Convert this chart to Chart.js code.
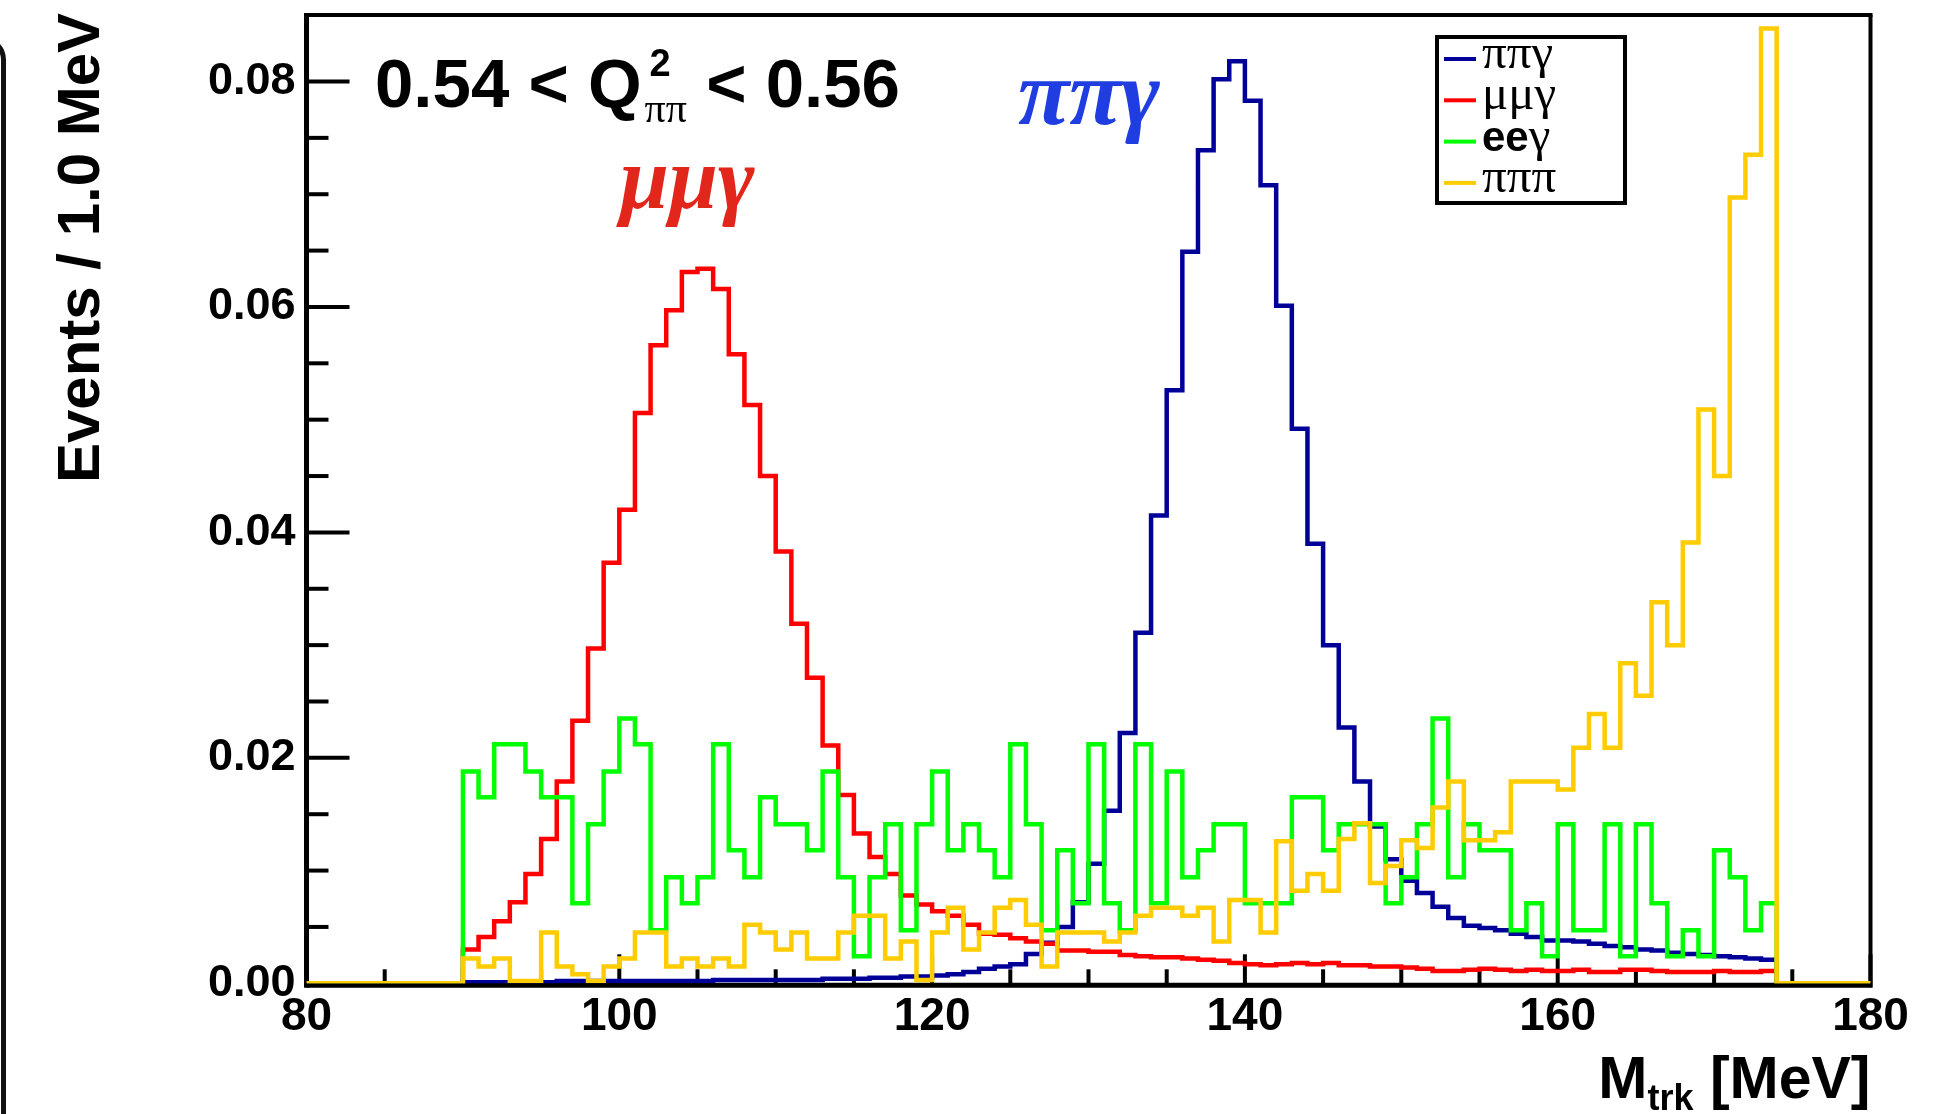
<!DOCTYPE html>
<html>
<head>
<meta charset="utf-8">
<title>M_trk distribution</title>
<script src="https://cdn.jsdelivr.net/npm/chart.js@4/dist/chart.umd.min.js"></script>
<style>
  html, body { margin: 0; padding: 0; background: #fff; }
  body { width: 1946px; height: 1114px; position: relative; overflow: hidden; }
  #wrap { position: absolute; left: 0; top: 0; width: 1946px; height: 1114px; }
  /* edge of the neighbouring panel */
  #edge { position: absolute; left: -40px; top: 36px; width: 46px; height: 1200px;
          box-sizing: border-box; border: 5px solid #111; border-top-right-radius: 24px; }
</style>
</head>
<body>
<div id="edge"></div>
<div id="wrap"><canvas id="chart"></canvas></div>
<script>
// Histogram range (MeV), 1 MeV bins
const xMin = 80;
const xMax = 180;
const firstBin = 90; // lower edge of the first filled bin, bins run 90..173

const xTickStep = 5;
const xLabelStep = 20;
const yMax = 0.0859;
const yTickStep = 0.005;
const yLabelStep = 0.02;

const seriesNames = ['ππγ', 'μμγ', 'eeγ', 'πππ'];
const seriesColors = ['#000099', '#ff0000', '#00ff00', '#ffcc00'];

// Events / 1.0 MeV for each bin from 90 to 173
const pipigamma = [
  0.0001, 0.0001, 0.0001, 0.0001, 0.0001, 0.0001, 0.0002, 0.0002, 0.0002, 0.0002,
  0.0002, 0.0002, 0.0002, 0.0002, 0.0002, 0.0002, 0.0003, 0.0003, 0.0003, 0.0003,
  0.0003, 0.0003, 0.0003, 0.0004, 0.0004, 0.0004, 0.0005, 0.0005, 0.0006, 0.0006,
  0.0007, 0.0008, 0.0010, 0.0013, 0.0015, 0.0017, 0.0026, 0.0036, 0.0050, 0.0072,
  0.0106, 0.0153, 0.0222, 0.0311, 0.0415, 0.0526, 0.0649, 0.0739, 0.0802, 0.0818,
  0.0783, 0.0708, 0.0601, 0.0492, 0.0390, 0.0300, 0.0227, 0.0179, 0.0139, 0.0110,
  0.0091, 0.0080, 0.0068, 0.0058, 0.0051, 0.0049, 0.0047, 0.0044, 0.0041, 0.0038,
  0.0038, 0.0037, 0.0035, 0.0033, 0.0032, 0.0030, 0.0029, 0.0027, 0.0026, 0.0025,
  0.0024, 0.0023, 0.0022, 0.0021
];

const mumugamma = [
  0.0030, 0.0041, 0.0055, 0.0072, 0.0097, 0.0128, 0.0179, 0.0233, 0.0297, 0.0373,
  0.0420, 0.0506, 0.0566, 0.0597, 0.0631, 0.0634, 0.0616, 0.0558, 0.0513, 0.0450,
  0.0383, 0.0319, 0.0271, 0.0211, 0.0167, 0.0133, 0.0112, 0.0097, 0.0078, 0.0070,
  0.0064, 0.0060, 0.0052, 0.0044, 0.0043, 0.0040, 0.0037, 0.0035, 0.0029, 0.0029,
  0.0028, 0.0028, 0.0025, 0.0024, 0.0023, 0.0023, 0.0022, 0.0021, 0.0020, 0.0018,
  0.0017, 0.0016, 0.0017, 0.0018, 0.0017, 0.0018, 0.0016, 0.0016, 0.0015, 0.0015,
  0.0014, 0.0013, 0.0011, 0.0011, 0.0012, 0.0013, 0.0012, 0.0011, 0.0012, 0.0011,
  0.0011, 0.0012, 0.0010, 0.0010, 0.0012, 0.0012, 0.0011, 0.0010, 0.0010, 0.0010,
  0.0011, 0.0010, 0.0010, 0.0011
];

const eegamma = [
  0.0188, 0.0165, 0.0212, 0.0212, 0.0188, 0.0165, 0.0165, 0.0071, 0.0141, 0.0188,
  0.0235, 0.0212, 0.0047, 0.0094, 0.0071, 0.0094, 0.0212, 0.0118, 0.0094, 0.0165,
  0.0141, 0.0141, 0.0118, 0.0188, 0.0094, 0.0024, 0.0094, 0.0141, 0.0047, 0.0141,
  0.0188, 0.0118, 0.0141, 0.0118, 0.0094, 0.0212, 0.0141, 0.0047, 0.0118, 0.0071,
  0.0212, 0.0071, 0.0047, 0.0212, 0.0071, 0.0188, 0.0094, 0.0118, 0.0141, 0.0141,
  0.0071, 0.0071, 0.0071, 0.0165, 0.0165, 0.0118, 0.0141, 0.0141, 0.0141, 0.0071,
  0.0094, 0.0141, 0.0235, 0.0094, 0.0141, 0.0118, 0.0118, 0.0047, 0.0071, 0.0024,
  0.0141, 0.0047, 0.0047, 0.0141, 0.0024, 0.0141, 0.0071, 0.0024, 0.0047, 0.0024,
  0.0118, 0.0094, 0.0047, 0.0071
];

const pipipi = [
  0.0022, 0.0015, 0.0022, 0.0002, 0.0002, 0.0045, 0.0015, 0.0008, 0.0002, 0.0015,
  0.0022, 0.0045, 0.0045, 0.0015, 0.0022, 0.0015, 0.0022, 0.0015, 0.0052, 0.0045,
  0.0030, 0.0045, 0.0022, 0.0022, 0.0045, 0.0060, 0.0060, 0.0022, 0.0037, 0.0003,
  0.0045, 0.0067, 0.0030, 0.0045, 0.0067, 0.0074, 0.0052, 0.0015, 0.0045, 0.0045,
  0.0045, 0.0037, 0.0045, 0.0060, 0.0067, 0.0067, 0.0060, 0.0067, 0.0037, 0.0074,
  0.0074, 0.0045, 0.0126, 0.0082, 0.0097, 0.0082, 0.0128, 0.0142, 0.0089, 0.0104,
  0.0127, 0.0120, 0.0156, 0.0179, 0.0127, 0.0127, 0.0134, 0.0179, 0.0179, 0.0179,
  0.0172, 0.0209, 0.0239, 0.0209, 0.0284, 0.0255, 0.0338, 0.0300, 0.0391, 0.0509,
  0.0450, 0.0697, 0.0735, 0.0847
];

const seriesValues = [pipigamma, mumugamma, eegamma, pipipi];

// Fonts
const SANS = '"Liberation Sans", Arial, Helvetica, sans-serif';
const SERIF = '"Liberation Serif", "DejaVu Serif", serif';

// Step outline: empty from xMin, one point per bin lower edge, back to zero up to xMax
function histPoints(values) {
  const pts = [{ x: xMin, y: 0 }];
  values.forEach((v, i) => pts.push({ x: firstBin + i, y: v }));
  pts.push({ x: firstBin + values.length, y: 0 });
  pts.push({ x: xMax, y: 0 });
  return pts;
}

const datasets = seriesNames.map((name, i) => ({
  label: name,
  data: histPoints(seriesValues[i]),
  borderColor: seriesColors[i],
  borderWidth: 4.5,
  stepped: true,
  pointRadius: 0,
  fill: false,
  order: seriesNames.length - 1 - i
}));

function strokeLine(ctx, x1, y1, x2, y2) {
  ctx.beginPath();
  ctx.moveTo(x1, y1);
  ctx.lineTo(x2, y2);
  ctx.stroke();
}

// Frame and inward ticks, under the histograms
const frameTicks = {
  id: 'frameTicks',
  beforeDatasetsDraw(chart) {
    const { ctx, chartArea: a, scales: { x, y } } = chart;
    ctx.save();
    ctx.strokeStyle = '#000';
    ctx.lineCap = 'butt';

    ctx.lineWidth = 4;
    x.ticks.forEach(t => {
      const px = x.getPixelForValue(t.value);
      const len = t.value % xLabelStep === 0 ? 29 : 14;
      strokeLine(ctx, px, a.bottom, px, a.bottom - len);
    });
    y.ticks.forEach(t => {
      const k = Math.round(t.value / yTickStep);
      if (Math.abs(t.value - k * yTickStep) > 1e-7) return;
      const py = y.getPixelForValue(t.value);
      const len = k % Math.round(yLabelStep / yTickStep) === 0 ? 43 : 22;
      strokeLine(ctx, a.left, py, a.left + len, py);
    });

    // top and right edges
    ctx.lineWidth = 4;
    strokeLine(ctx, a.left, a.top, a.right + 2, a.top);
    strokeLine(ctx, a.right, a.top, a.right, a.bottom + 4);
    // axes
    ctx.lineWidth = 5;
    strokeLine(ctx, a.left, a.top - 2, a.left, a.bottom + 4.5);
    strokeLine(ctx, a.left, a.bottom + 2, a.right + 2, a.bottom + 2);
    ctx.restore();
  }
};

// Greek letters in serif, everything else in bold sans
const greekRe = /[\u0370-\u03ff]/;
function drawMixed(ctx, text, x, y, greekFont, latinFont) {
  let cx = x;
  for (const ch of text) {
    ctx.font = greekRe.test(ch) ? greekFont : latinFont;
    ctx.fillText(ch, cx, y);
    cx += ctx.measureText(ch).width;
  }
  return cx;
}

// Axis titles, labels and legend
const annotations = {
  id: 'annotations',
  afterDraw(chart) {
    const { ctx, chartArea: a } = chart;
    ctx.save();
    ctx.fillStyle = '#000';
    ctx.textBaseline = 'alphabetic';

    // y title
    ctx.save();
    ctx.translate(99, 248);
    ctx.rotate(-Math.PI / 2);
    ctx.font = 'bold 60px ' + SANS;
    ctx.textAlign = 'center';
    ctx.fillText('Events / 1.0 MeV', 0, 0);
    ctx.restore();

    // x title, right aligned to the frame
    ctx.textAlign = 'left';
    const big = 'bold 59px ' + SANS;
    const sub = 'bold 36px ' + SANS;
    ctx.font = big;
    const wM = ctx.measureText('M').width;
    const wRest = ctx.measureText(' [MeV]').width;
    ctx.font = sub;
    const wSub = ctx.measureText('trk').width;
    let tx = a.right - (wM + wSub + wRest);
    ctx.font = big;
    ctx.fillText('M', tx, 1098);
    tx += wM;
    ctx.font = sub;
    ctx.fillText('trk', tx, 1110);
    tx += wSub;
    ctx.font = big;
    ctx.fillText(' [MeV]', tx, 1098);

    // Q2 range
    let qx = 375;
    ctx.font = 'bold 69px ' + SANS;
    ctx.fillText('0.54 < Q', qx, 107);
    qx += ctx.measureText('0.54 < Q').width + 3;
    ctx.font = 'bold 38px ' + SANS;
    ctx.fillText('2', qx + 5, 76);
    ctx.font = '42px ' + SERIF;
    ctx.fillText('ππ', qx, 122);
    qx += ctx.measureText('ππ').width;
    ctx.font = 'bold 69px ' + SANS;
    ctx.fillText(' < 0.56', qx, 107);

    // channel labels
    ctx.fillStyle = '#e3261b';
    ctx.font = 'italic bold 88px ' + SERIF;
    ctx.fillText('μμγ', 620, 208);
    ctx.fillStyle = '#1f3de0';
    ctx.font = 'italic bold 94px ' + SERIF;
    ctx.fillText('ππγ', 1018, 124);

    // legend
    const box = { x: 1437, y: 37, w: 188, h: 166 };
    ctx.fillStyle = '#fff';
    ctx.fillRect(box.x, box.y, box.w, box.h);
    ctx.strokeStyle = '#000';
    ctx.lineWidth = 4;
    ctx.strokeRect(box.x, box.y, box.w, box.h);
    chart.data.datasets.forEach((ds, i) => {
      const ry = box.y + 22 + i * 41.3;
      ctx.strokeStyle = ds.borderColor;
      ctx.lineWidth = 4;
      strokeLine(ctx, box.x + 7, ry, box.x + 39, ry);
      ctx.fillStyle = '#000';
      drawMixed(ctx, ds.label, box.x + 45, ry + 9, '49px ' + SERIF, 'bold 42px ' + SANS);
    });
    ctx.restore();
  }
};

const chart = new Chart(document.getElementById('chart'), {
  type: 'line',
  data: { datasets },
  options: {
    responsive: true,
    maintainAspectRatio: false,
    animation: false,
    events: [],
    layout: { padding: { top: 15, right: 75.5, bottom: 0, left: 0 } },
    scales: {
      x: {
        type: 'linear',
        min: xMin,
        max: xMax,
        grid: { display: false },
        border: { display: false },
        ticks: {
          stepSize: xTickStep,
          autoSkip: false,
          maxRotation: 0,
          padding: -2,
          color: '#000',
          font: { family: SANS, size: 46, weight: 'bold' },
          callback: v => (v % xLabelStep === 0 ? String(v) : '')
        },
        afterFit: s => { s.height = 130.7; s.paddingLeft = 0; s.paddingRight = 0; }
      },
      y: {
        type: 'linear',
        min: 0,
        max: yMax,
        grid: { display: false },
        border: { display: false },
        ticks: {
          stepSize: yTickStep,
          autoSkip: false,
          padding: 3,
          color: '#000',
          font: { family: SANS, size: 45, weight: 'bold' },
          callback: v => {
            const k = Math.round(v / yTickStep);
            if (Math.abs(v - k * yTickStep) > 1e-7) return '';
            return k % Math.round(yLabelStep / yTickStep) === 0 ? v.toFixed(2) : '';
          }
        },
        afterFit: s => { s.width = 306.5; s.paddingTop = 0; s.paddingBottom = 0; }
      }
    },
    plugins: {
      legend: { display: false },
      tooltip: { enabled: false }
    }
  },
  plugins: [frameTicks, annotations]
});
</script>
</body>
</html>
